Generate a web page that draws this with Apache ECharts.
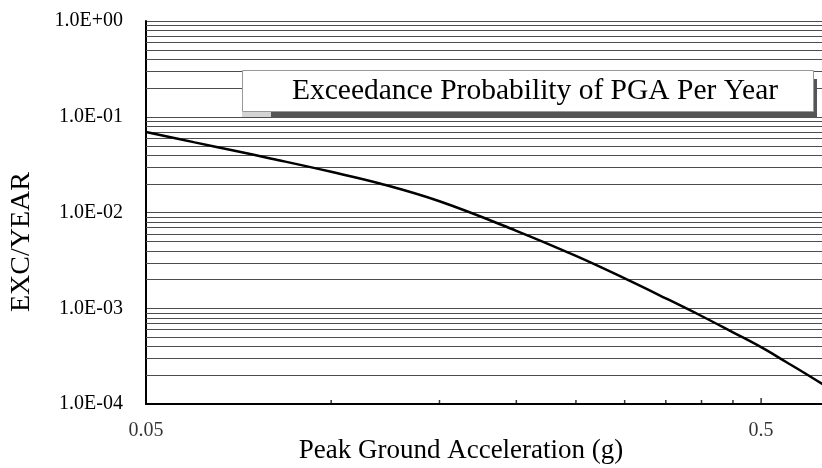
<!DOCTYPE html>
<html>
<head>
<meta charset="utf-8">
<title>Exceedance Probability of PGA Per Year</title>
<script src="https://cdn.jsdelivr.net/npm/echarts@6/dist/echarts.min.js"></script>
<style>
html, body { margin: 0; padding: 0; background: #fff; }
#chart { width: 822px; height: 468px; }
</style>
</head>
<body>
<div id="chart"></div>
<script>
// hazard curve
var pga = [0.05, 0.06, 0.07, 0.08, 0.1, 0.12, 0.15, 0.2, 0.25, 0.3, 0.35, 0.4, 0.45, 0.5, 0.55, 0.6, 0.65];
var excPerYear = [0.0693, 0.0540, 0.0438, 0.0365, 0.0266, 0.0201, 0.0131, 0.00644, 0.00352, 0.00205, 0.00127, 0.00083, 0.00056, 0.000392, 0.000273, 0.000195, 0.000141];

// axis ticks / labels
var xTicks = [0.1, 0.15, 0.2, 0.25, 0.3, 0.35, 0.4, 0.45];
var xMajorTicks = [0.5];
var xLabels = [0.05, 0.5];
var yDecades = [0.0001, 0.001, 0.01, 0.1];
var yMinorSteps = [2, 3, 4, 5, 6, 7, 8, 9];

var xMin = 0.05, xMax = 0.628;
var yMin = 0.0001, yMax = 1;
var serif = "'Liberation Serif', 'Times New Roman', serif";
var gridColor = '#4d4d4d';

var minorLines = [];
yDecades.forEach(function (d) {
    yMinorSteps.forEach(function (m) {
        minorLines.push([xMin, m * d]);
    });
});

function expLabel(v) {
    var e = Math.round(Math.log10(v));
    var s = String(Math.abs(e));
    if (s.length < 2) s = '0' + s;
    return '1.0E' + (e < 0 ? '-' : '+') + s;
}

var myChart = echarts.init(document.getElementById('chart'));
myChart.setOption({
    animation: false,
    grid: { left: 146, right: 0, top: 21, bottom: 64 },
    xAxis: {
        type: 'log',
        logBase: 10,
        min: xMin,
        max: xMax,
        axisLine: { show: true, lineStyle: { color: '#000', width: 2 } },
        axisTick: { show: false },
        axisLabel: { show: false },
        splitLine: { show: false }
    },
    yAxis: {
        type: 'log',
        logBase: 10,
        min: yMin,
        max: yMax,
        axisLine: { show: true, lineStyle: { color: '#000', width: 2 } },
        axisTick: { show: false },
        axisLabel: {
            margin: 23,
            color: '#000',
            fontFamily: serif,
            fontSize: 20,
            formatter: expLabel
        },
        splitLine: { show: true, lineStyle: { color: gridColor, width: 1 } }
    },
    series: [
        {
            // minor horizontal grid at 2..9 of each decade
            type: 'custom',
            silent: true,
            z: 1,
            data: minorLines,
            renderItem: function (params, api) {
                var p1 = api.coord([xMin, api.value(1)]);
                var p2 = api.coord([xMax, api.value(1)]);
                var y = Math.round(p1[1]) + 0.5;
                return {
                    type: 'line',
                    shape: { x1: p1[0], y1: y, x2: p2[0], y2: y },
                    style: { stroke: gridColor, lineWidth: 1 }
                };
            }
        },
        {
            type: 'line',
            data: pga.map(function (x, i) { return [x, excPerYear[i]]; }),
            showSymbol: false,
            smooth: 0.4,
            lineStyle: { color: '#000', width: 2.5 },
            z: 5
        },
        {
            type: 'scatter',
            silent: true,
            clip: false,
            symbol: 'rect',
            symbolSize: [1.5, 4],
            symbolOffset: [0, -2],
            itemStyle: { color: '#000' },
            data: xTicks.map(function (x) { return [x, yMin]; })
        },
        {
            type: 'scatter',
            silent: true,
            clip: false,
            symbol: 'rect',
            symbolSize: [1.5, 6],
            symbolOffset: [0, -3],
            itemStyle: { color: '#000' },
            data: xMajorTicks.map(function (x) { return [x, yMin]; })
        },
        {
            type: 'scatter',
            silent: true,
            clip: false,
            symbolSize: 1,
            itemStyle: { color: 'rgba(0,0,0,0)' },
            label: {
                show: true,
                position: 'bottom',
                distance: 16,
                color: '#000',
                fontFamily: serif,
                fontSize: 20,
                formatter: function (p) { return String(p.value[0]); }
            },
            data: xLabels.map(function (x) { return [x, yMin]; })
        }
    ],
    graphic: [
        { type: 'rect', z: 100, shape: { x: 242, y: 112, width: 30, height: 5 }, style: { fill: '#d4d4d4' } },
        { type: 'rect', z: 100, shape: { x: 271, y: 112, width: 546, height: 6 }, style: { fill: '#555' } },
        { type: 'rect', z: 100, shape: { x: 813, y: 79, width: 4, height: 39 }, style: { fill: '#555' } },
        { type: 'rect', z: 101, shape: { x: 242.5, y: 70.5, width: 571, height: 41 }, style: { fill: '#fff', stroke: '#999', lineWidth: 1 } },
        {
            type: 'text', z: 102, x: 535, y: 91,
            style: { text: 'Exceedance Probability of PGA Per Year', font: '29.5px ' + serif, fill: '#000', textAlign: 'center', textVerticalAlign: 'middle' }
        },
        {
            type: 'text', z: 102, x: 461, y: 451,
            style: { text: 'Peak Ground Acceleration (g)', font: '27px ' + serif, fill: '#000', textAlign: 'center', textVerticalAlign: 'middle' }
        },
        {
            type: 'text', z: 102, x: 22, y: 242, rotation: Math.PI / 2,
            style: { text: 'EXC/YEAR', font: '28px ' + serif, fill: '#000', textAlign: 'center', textVerticalAlign: 'middle' }
        }
    ]
});
</script>
</body>
</html>
